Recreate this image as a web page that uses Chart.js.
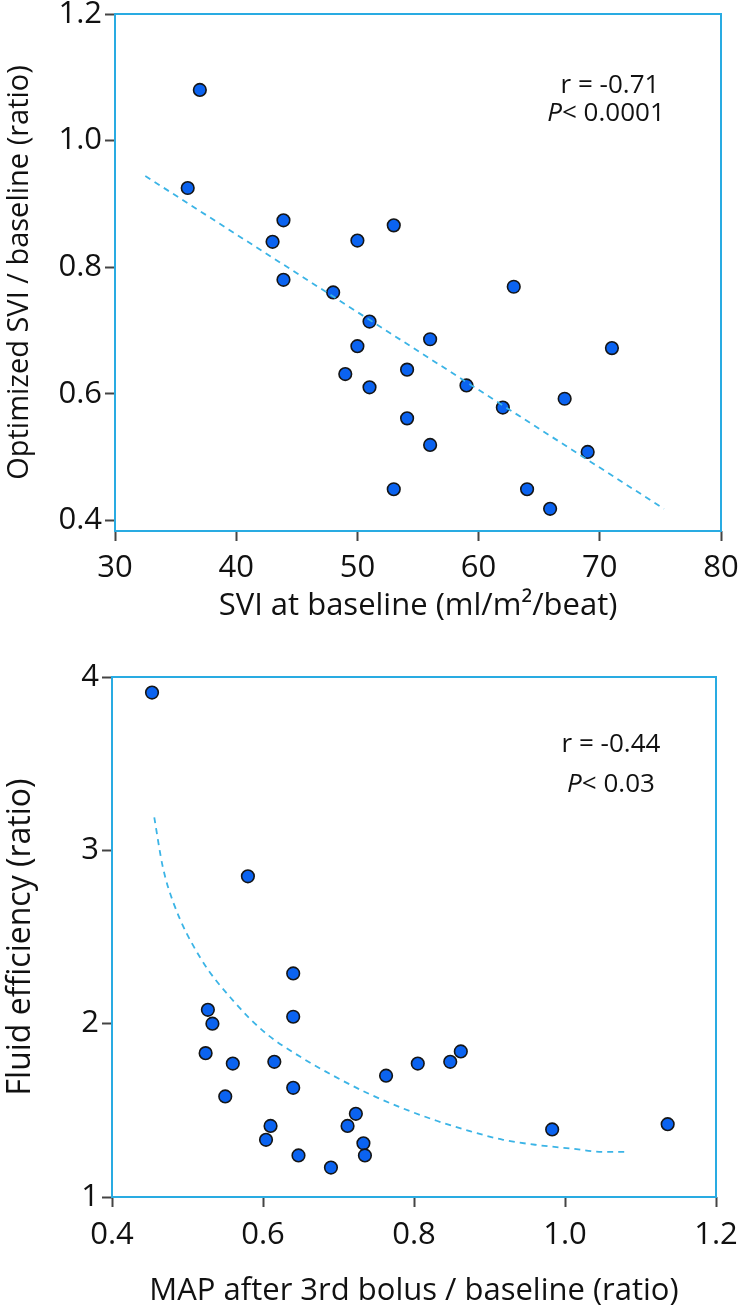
<!DOCTYPE html>
<html>
<head>
<meta charset="utf-8">
<script src="https://cdn.jsdelivr.net/npm/chart.js@4.4.1/dist/chart.umd.min.js"></script>
<style>
  body { margin: 0; background: #fff; }
  #wrap { position: relative; width: 739px; height: 1311px; overflow: hidden; font-family: "Open Sans", sans-serif; color: #111; }
  canvas { position: absolute; left: 0; }
  .stat { position: absolute; font-size: 26px; line-height: 1; white-space: nowrap; transform: translate(-50%, -50%); }
</style>
</head>
<body>
<div id="wrap">
  <canvas id="topChart" width="739" height="640" style="top:0"></canvas>
  <canvas id="bottomChart" width="739" height="671" style="top:640px"></canvas>
  <div class="stat" style="left:610px; top:83px">r = -0.71</div>
  <div class="stat" style="left:606px; top:111px"><i>P</i>&lt; 0.0001</div>
  <div class="stat" style="left:611px; top:742px">r = -0.44</div>
  <div class="stat" style="left:611px; top:782px"><i>P</i>&lt; 0.03</div>
</div>
<script>
// Top panel: SVI at baseline vs optimized SVI / baseline
const sviBaseline = [37, 36, 43.9, 43, 50, 43.9, 48, 53, 62.9, 51, 50, 49, 51, 56, 71, 54.1, 59, 67.1, 62, 54.1, 56, 69, 53, 64, 65.9];
const sviRatio = [1.08, 0.925, 0.874, 0.84, 0.842, 0.78, 0.76, 0.866, 0.769, 0.714, 0.675, 0.631, 0.61, 0.686, 0.672, 0.638, 0.613, 0.592, 0.578, 0.561, 0.519, 0.508, 0.449, 0.449, 0.418];
const sviTrendX = [32.5, 75.3];
const sviTrendY = [0.944, 0.418];
const sviXTicks = [30, 40, 50, 60, 70, 80];
const sviYTicks = [0.4, 0.6, 0.8, 1.0, 1.2];

// Bottom panel: MAP after 3rd bolus vs fluid efficiency
const mapRatio = [0.453, 0.58, 0.64, 0.527, 0.533, 0.64, 0.524, 0.56, 0.615, 0.64, 0.55, 0.723, 0.712, 0.61, 0.604, 0.733, 0.647, 0.735, 0.69, 0.763, 0.805, 0.848, 0.862, 0.983, 1.136];
const fluidEfficiency = [3.91, 2.85, 2.29, 2.08, 2.0, 2.04, 1.83, 1.77, 1.78, 1.63, 1.58, 1.48, 1.41, 1.41, 1.33, 1.31, 1.24, 1.24, 1.17, 1.70, 1.77, 1.78, 1.84, 1.39, 1.42];
const mapTrendX = [0.456, 0.467, 0.482, 0.517, 0.561, 0.605, 0.649, 0.693, 0.738, 0.786, 0.830, 0.874, 0.918, 0.963, 1.007, 1.051, 1.082];
const mapTrendY = [3.19, 2.91, 2.69, 2.38, 2.13, 1.94, 1.81, 1.70, 1.60, 1.51, 1.44, 1.38, 1.33, 1.30, 1.28, 1.26, 1.26];
const mapXTicks = [0.4, 0.6, 0.8, 1.0, 1.2];
const mapYTicks = [1, 2, 3, 4];

const FRAME = "#29abe2";
const FONT = "'Open Sans', sans-serif";

// blue frame around the plot area
const framePlugin = {
  id: "frame",
  beforeDatasetsDraw(chart) {
    const { ctx, chartArea: a } = chart;
    ctx.save();
    ctx.strokeStyle = FRAME;
    ctx.lineWidth = 2;
    ctx.strokeRect(a.left, a.top, a.right - a.left, a.bottom - a.top);
    ctx.restore();
  }
};

function toPoints(xs, ys) {
  return xs.map((x, i) => ({ x: x, y: ys[i] }));
}

function axis(cfg) {
  return {
    type: "linear",
    min: cfg.min,
    max: cfg.max,
    afterBuildTicks: s => { s.ticks = cfg.ticks.map(v => ({ value: v })); },
    afterFit: s => {
      if (cfg.width) s.width = cfg.width;
      if (cfg.height) s.height = cfg.height;
      s.paddingTop = 0; s.paddingBottom = 0; s.paddingLeft = 0; s.paddingRight = 0;
    },
    grid: { drawOnChartArea: false, drawTicks: true, tickLength: 10, tickColor: "#444", tickWidth: 2 },
    border: { display: false },
    ticks: {
      color: "#111",
      font: { family: FONT, size: 31 },
      padding: cfg.tickPad,
      maxRotation: 0,
      callback: cfg.format
    },
    title: {
      display: true,
      text: cfg.title,
      color: "#111",
      font: { family: FONT, size: cfg.titleSize },
      padding: cfg.titlePad
    }
  };
}

function buildChart(id, data) {
  new Chart(document.getElementById(id), {
    type: "scatter",
    data: {
      datasets: [
        {
          type: "line",
          data: toPoints(data.trendX, data.trendY),
          borderColor: "#3bb4e6",
          borderWidth: 1.8,
          borderDash: [6, 5],
          pointRadius: 0,
          tension: 0.4,
          cubicInterpolationMode: "monotone",
          fill: false
        },
        {
          data: toPoints(data.x, data.y),
          pointRadius: 6.3,
          pointBackgroundColor: "#0b63f0",
          pointBorderColor: "#151515",
          pointBorderWidth: 1.6
        }
      ]
    },
    options: {
      responsive: false,
      animation: false,
      devicePixelRatio: 1,
      layout: { padding: data.padding },
      plugins: { legend: { display: false }, tooltip: { enabled: false } },
      scales: { x: data.xAxis, y: data.yAxis }
    },
    plugins: [framePlugin]
  });
}

buildChart("topChart", {
  x: sviBaseline, y: sviRatio, trendX: sviTrendX, trendY: sviTrendY,
  padding: { left: 0, top: 14, right: 18, bottom: 15 },
  xAxis: axis({ min: 30, max: 80, ticks: sviXTicks, height: 94, tickPad: 9, titleSize: 31, titlePad: { top: 0, bottom: 0 },
    format: v => String(v), title: "SVI at baseline (ml/m\u00b2/beat)" }),
  yAxis: axis({ min: 0.383, max: 1.2, ticks: sviYTicks, width: 115, tickPad: 3, titleSize: 29, titlePad: { top: 2, bottom: 0 },
    format: v => v.toFixed(1), title: "Optimized SVI / baseline (ratio)" })
});

buildChart("bottomChart", {
  x: mapRatio, y: fluidEfficiency, trendX: mapTrendX, trendY: mapTrendY,
  padding: { left: 0, top: 37, right: 23, bottom: 1 },
  xAxis: axis({ min: 0.4, max: 1.2, ticks: mapXTicks, height: 113, tickPad: 10, titleSize: 31, titlePad: { top: 0, bottom: 0 },
    format: v => v.toFixed(1), title: "MAP after 3rd bolus / baseline (ratio)" }),
  yAxis: axis({ min: 1, max: 4, ticks: mapYTicks, width: 112, tickPad: 3, titleSize: 32, titlePad: { top: 2, bottom: 0 },
    format: v => String(v), title: "Fluid efficiency (ratio)" })
});
</script>
</body>
</html>
